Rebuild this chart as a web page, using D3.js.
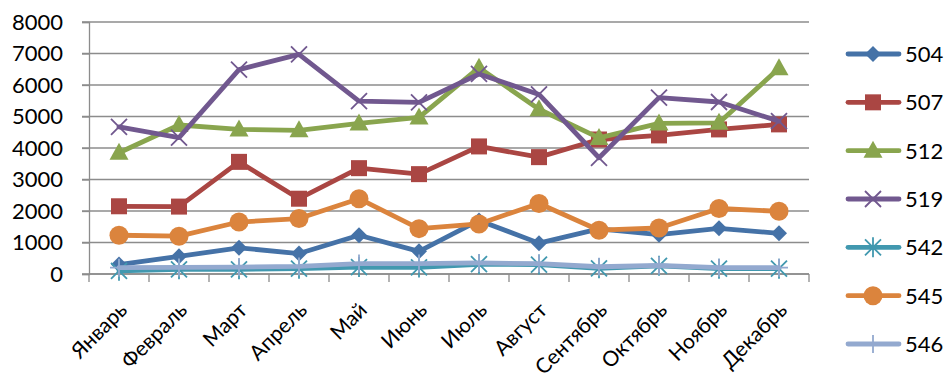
<!DOCTYPE html>
<html>
<head>
<meta charset="utf-8">
<script src="https://cdn.jsdelivr.net/npm/d3@7"></script>
<style>
  html, body { margin: 0; padding: 0; background: #fff; }
  svg { display: block; }
  text { font-family: Lato, "Open Sans", sans-serif; fill: #000; }
</style>
</head>
<body>
<svg id="chart" width="947" height="381"></svg>
<script>
// Monthly figures per code
const months = ["Январь", "Февраль", "Март", "Апрель", "Май", "Июнь", "Июль", "Август", "Сентябрь", "Октябрь", "Ноябрь", "Декабрь"];
const yTicks = [0, 1000, 2000, 3000, 4000, 5000, 6000, 7000, 8000];

const s504 = [300, 560, 830, 650, 1230, 720, 1700, 980, 1430, 1250, 1450, 1290];
const s507 = [2150, 2140, 3560, 2390, 3360, 3170, 4050, 3710, 4270, 4400, 4590, 4750];
const s512 = [3850, 4730, 4590, 4560, 4780, 4970, 6550, 5230, 4320, 4780, 4800, 6530];
const s519 = [4670, 4330, 6490, 6970, 5490, 5450, 6350, 5700, 3690, 5600, 5460, 4850];
const s542 = [100, 150, 150, 170, 220, 210, 310, 300, 180, 260, 170, 170];
const s545 = [1230, 1200, 1650, 1760, 2390, 1440, 1590, 2240, 1390, 1460, 2080, 1990];
const s546 = [200, 210, 220, 240, 330, 330, 350, 330, 230, 270, 200, 200];

const seriesNames = ["504", "507", "512", "519", "542", "545", "546"];
const seriesValues = [s504, s507, s512, s519, s542, s545, s546];
const seriesColors = ["#4572A7", "#AA4643", "#89A54E", "#71588F", "#4198AF", "#DB843D", "#93A9CF"];
const seriesMarkers = ["diamond", "square", "triangle", "x", "asterisk", "circle", "plus"];

const svg = d3.select("#chart");
const plot = { left: 89, right: 809, top: 22, bottom: 274 };

const xBand = d3.scaleBand().domain(months).range([plot.left, plot.right]);
const x = d3.scalePoint().domain(months).range([plot.left, plot.right]).padding(0.5);
const y = d3.scaleLinear().domain([0, 8000]).range([plot.bottom, plot.top]);

// Horizontal gridlines
svg.append("g")
  .selectAll("line")
  .data(yTicks)
  .join("line")
  .attr("x1", plot.left - 7).attr("x2", plot.right)
  .attr("y1", d => y(d)).attr("y2", d => y(d))
  .attr("stroke", "#8c8c8c").attr("stroke-width", 1.3);

// Y axis
const yAxis = svg.append("g")
  .attr("transform", `translate(${plot.left},0)`)
  .call(d3.axisLeft(y).tickValues(yTicks).tickSize(7).tickPadding(19).tickFormat(d3.format("d")));
yAxis.select(".domain").attr("stroke", "#8c8c8c").attr("stroke-width", 1.3);
yAxis.selectAll(".tick line").attr("stroke", "#8c8c8c").attr("stroke-width", 1.3);
yAxis.selectAll(".tick text").attr("font-size", 22).attr("font-family", "Lato, sans-serif").attr("fill", "#000");

// X axis: ticks on category boundaries
const xAxisG = svg.append("g").attr("transform", `translate(0,${plot.bottom})`);
xAxisG.append("line")
  .attr("x1", plot.left).attr("x2", plot.right)
  .attr("stroke", "#8c8c8c").attr("stroke-width", 1.3);
const bounds = months.map(m => xBand(m)).concat([xBand(months[months.length - 1]) + xBand.bandwidth()]);
xAxisG.selectAll("line.tk")
  .data(bounds)
  .join("line")
  .attr("class", "tk")
  .attr("x1", d => d).attr("x2", d => d)
  .attr("y1", 0).attr("y2", 8)
  .attr("stroke", "#8c8c8c").attr("stroke-width", 1.3);
xAxisG.selectAll("text")
  .data(months)
  .join("text")
  .attr("transform", d => `translate(${x(d) - 1},${27}) rotate(-45)`)
  .attr("text-anchor", "end")
  .attr("dy", "0.7em")
  .attr("font-size", 21)
  .text(d => d);

// Marker shapes
function drawMarker(g, type, color) {
  switch (type) {
    case "diamond":
      g.append("path").attr("d", "M0,-8L8,0L0,8L-8,0Z").attr("fill", color);
      break;
    case "square":
      g.append("rect").attr("x", -8).attr("y", -8).attr("width", 16).attr("height", 16).attr("fill", color);
      break;
    case "triangle":
      g.append("path").attr("d", "M0,-10L9.5,7L-9.5,7Z").attr("fill", color);
      break;
    case "circle":
      g.append("circle").attr("r", 9.5).attr("fill", color);
      break;
    case "x":
      g.append("path").attr("d", "M-8,-8L8,8M-8,8L8,-8").attr("stroke", color).attr("stroke-width", 1.8).attr("fill", "none");
      break;
    case "asterisk":
      g.append("path").attr("d", "M-8,-8L8,8M-8,8L8,-8M0,-10L0,10").attr("stroke", color).attr("stroke-width", 1.8).attr("fill", "none");
      break;
    case "plus":
      g.append("path").attr("d", "M0,-9L0,9M-9,0L9,0").attr("stroke", color).attr("stroke-width", 1.8).attr("fill", "none");
      break;
  }
}

const line = d3.line().x((d, i) => x(months[i])).y(d => y(d));

// Series lines and markers
seriesValues.forEach((vals, si) => {
  const color = seriesColors[si];
  const g = svg.append("g");
  g.append("path")
    .datum(vals)
    .attr("d", line)
    .attr("fill", "none")
    .attr("stroke", color)
    .attr("stroke-width", 4.8)
    .attr("stroke-linejoin", "round")
    .attr("stroke-linecap", "round");
  vals.forEach((v, i) => {
    const mg = g.append("g").attr("transform", `translate(${x(months[i])},${y(v)})`);
    drawMarker(mg, seriesMarkers[si], color);
  });
});

// Legend
const legendY = d3.scalePoint().domain(seriesNames).range([54, 344]);
const legend = svg.append("g");
seriesNames.forEach((name, si) => {
  const ly = legendY(name);
  const color = seriesColors[si];
  legend.append("line")
    .attr("x1", 848).attr("x2", 899).attr("y1", ly).attr("y2", ly)
    .attr("stroke", color).attr("stroke-width", 4.8).attr("stroke-linecap", "round");
  drawMarker(legend.append("g").attr("transform", `translate(873,${ly})`), seriesMarkers[si], color);
  legend.append("text")
    .attr("x", 905).attr("y", ly)
    .attr("dy", "0.36em")
    .attr("font-size", 22)
    .text(name);
});
</script>
</body>
</html>
